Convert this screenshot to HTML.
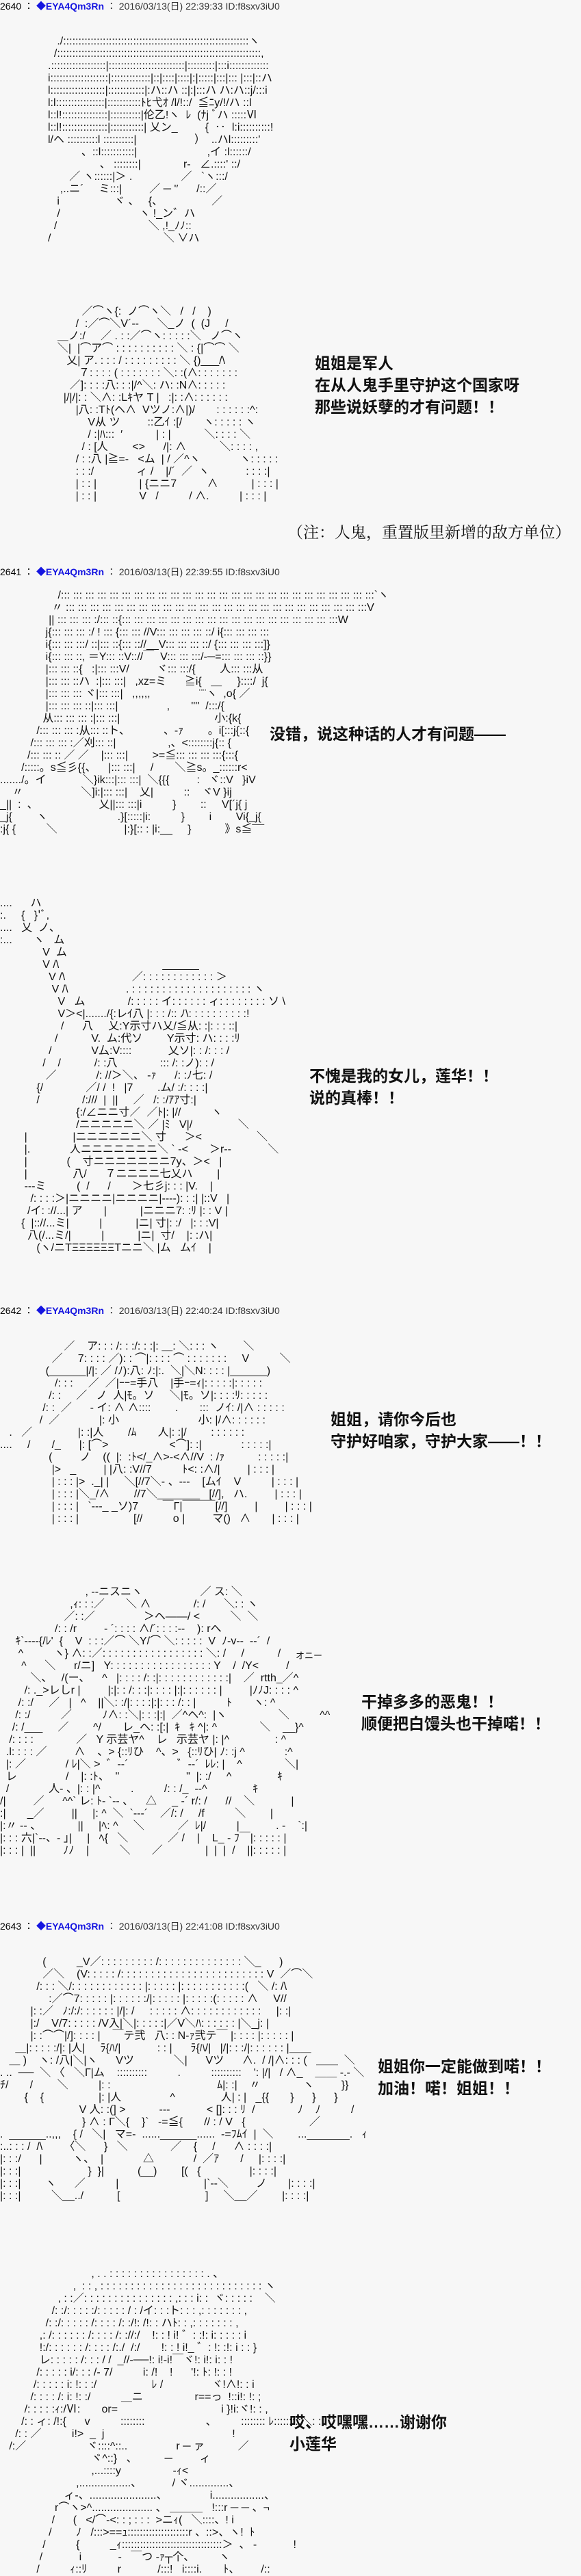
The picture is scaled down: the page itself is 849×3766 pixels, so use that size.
<!DOCTYPE html>
<html><head><meta charset="utf-8">
<style>
html,body{margin:0;padding:0;}
body{width:849px;height:3762px;background:#f7f7f7;position:relative;overflow:hidden;font-family:"Liberation Sans","Noto Sans CJK JP",sans-serif;}
.h{position:absolute;left:0;font-size:14px;line-height:18px;color:#333;white-space:pre;}
.h b{color:#1515e0;}
.h .n{color:#000;}
pre{position:absolute;margin:0;font-family:"Liberation Sans","Noto Sans CJK JP",sans-serif;font-size:16px;line-height:18px;color:#111;white-space:pre;}
.t{position:absolute;font-family:"Liberation Sans","Noto Sans CJK SC",sans-serif;font-size:23px;line-height:32px;color:#111;white-space:nowrap;font-weight:bold;}
.note{position:absolute;font-family:"Liberation Serif","Noto Serif CJK SC",serif;font-size:23px;line-height:32px;color:#111;white-space:nowrap;}
</style></head><body>

<div class="h" style="top:0px"><span class="n">2640 ： </span><b>◆EYA4Qm3Rn</b> ： 2016/03/13(日) 22:39:33 ID:f8sxv3iU0</div>
<div class="h" style="top:827px"><span class="n">2641 ： </span><b>◆EYA4Qm3Rn</b> ： 2016/03/13(日) 22:39:55 ID:f8sxv3iU0</div>
<div class="h" style="top:1907px"><span class="n">2642 ： </span><b>◆EYA4Qm3Rn</b> ： 2016/03/13(日) 22:40:24 ID:f8sxv3iU0</div>
<div class="h" style="top:2807px"><span class="n">2643 ： </span><b>◆EYA4Qm3Rn</b> ： 2016/03/13(日) 22:41:08 ID:f8sxv3iU0</div>

<pre style="top:52px;left:70px">   ./:::::::::::::::::::::::::::::::::::::::::::::::::::::::::::::ヽ
  /:::::::::::::::::::::::::::::::::::::::::::::::::::::::::::::::::::,
.::::::::::::::::::|:::::::::::::::::::::::::|:::::::::|:::i:::::::::::::
i:::::::::::::::::::|:::::::::::::|::|::::|::::|:|:::::|:::|::: |:::|::ハ
l::::::::::::::::::|::::::::::::|:ハ::ハ ::|:|:::ハ ハ:ハ::j/:::i
l:l::::::::::::::::|:::::::::::ﾄﾋ弋ｵ /l/!::/  ≦ﾆy/!/ハ ::l
l::l!:::::::::::::::|::::::::::|伦乙!ヽ  ﾚ  (ﾅj ﾞハ :::::Ⅵ
l::l!:::::::::::::::|:::::::::::| 乂ン_         {  ‥  l:i::::::::::!
l/ヘ ::::::::::l ::::::::::|                   ）  ..ハl:::::::::'
           、::l:::::::::::|                       ,イ :l::::::/
                 、 ::::::::|              r‐   ∠.::::' ::/
       ／ ヽ::::::|＞ .                ／   `ヽ:::/
    ,..ニ´     ミ:::|         ／ ─ '′      /::／
   i                  ヾ 、   {、                ／
   /                          ヽ !_ン゛ハ
  /                              ＼ ,!_ﾉﾉ::
/                                     ＼ ∨ハ</pre>

<pre style="top:447px;left:75px">          ／⌒ヽ{:  ノ⌒ヽ＼   /   /    )
        /  :／⌒＼V´‐‐      ＼_ノ  (  (J     /
  ＿ノ:/     ／ . : :／⌒ヽ: : : : :＼   ノ⌒ヽ
  ＼|  |⌒ア⌒ : : : : : : : : : : ＼ : {|⌒⌒ ＼
     乂| ア. : : : / : : : : : : : : : ＼ {)___/\
         ７: : : : ( : : : : : : : ＼: :(∧: : : : : : :
      ／]: : : :八: : :|/^＼: ハ: :N∧: : : : :
    |/|/|: : ＼∧: :Lｷヤ T |   :|: :∧: : : : : :
        |八: :Tﾄ(ヘ∧  Vツノ:∧|)/       : : : : : :^:
            V从 ツ         ::乙ｲ :[/       ヽ: : : : : ヽ
            / :|ﾊ:::  ′           | : |           ＼: : : : ＼
          / : [人        &lt;&gt;      /|: ∧           ＼: : : : ,
        / : :八 |≧=‐   &lt;ム  | / ／^ヽ             ヽ: : : : :
        : : :/              ィ /    |/´  ／  ヽ            : : : :|
        | : : |              | {ニニ7          ∧           | : : : |
        | : : |              V   /          / ∧.          | : : : |</pre>

<div class="t" style="top:515px;left:460px">姐姐是军人<br>在从人鬼手里守护这个国家呀<br>那些说妖孽的才有问题！！</div>
<div class="note" style="top:763px;left:420px">（注：人鬼，重置版里新增的敌方单位）</div>

<pre style="top:862px;left:0px">                   /::: ::: ::: ::: ::: ::: ::: ::: ::: ::: ::: ::: ::: ::: ::: ::: ::: ::: ::: ::: ::: ::: ::: ::: ::: :::`ヽ
                 〃 ::: ::: ::: ::: ::: ::: ::: ::: ::: ::: ::: ::: ::: ::: ::: ::: ::: ::: ::: ::: ::: ::: ::: ::: :::V
                || ::: ::: ::: :/::: ::{::: ::: ::: ::: ::: ::: ::: ::: ::: ::: ::: ::: ::: ::: ::: ::: ::: :::W
               j{::: ::: ::: :/ ! ::: {::: ::: //V::: ::: ::: ::: ::/ i{::: ::: ::: :::
               i{::: ::: :::/ ::|::: ::{::: :://__V::: ::: ::: ::/ {::: ::: ::: :::]}
               i{::: ::: ::, ＝Y::: ::V:://￣  V::: ::: :::/‐─=::: ::: ::: ::}}
               |::: ::: ::{   :|::: :::V/         ヾ::: :::/{        人::: :::从
               |::: ::: ::ハ  :|::: :::|   ,xz=ミ      ≧i{   ＿     }::::/  j{
               |::: ::: ::: ヾ|::: :::|   ,,,,,,                ¨¨ヽ  ,o{ ／
               |::: ::: ::: ::|::: :::|                ,       ''''  /:::/{
              从::: ::: ::: :|::: :::|                               小:{k{
            /::: ::: ::: :从::: ::ト、           、‐ｧ        。i[:::j{::{
          /::: ::: ::: :／刈::: ::|                 ,、&lt;::::::::j{:: {
         /::: ::: :: ／ ／    |::: :::|        &gt;=≦::: ::: ::: :::{:::{
       /:::::。s≦彡{{、    |::: :::|     /       ＼≧s。_::::::r&lt;
......./。イ            ＼}ik:::|::: :::|  ＼{{{         :   ヾ::V   }iV
    〃                   ＼]i:|::: :::|    乂|          ::    ヾV }ij
_||  :  、                    乂||::: :::|i          }        ::     V[´j{ j
_j{        ヽ                       .}[:::::|i:          }        i        Vi{_j{
:j{ {          ＼                      |:}[:: : |i:__     }           》s≦¯¯</pre>

<div class="t" style="top:1057px;left:394px">没错，说这种话的人才有问题——</div>

<pre style="top:1312px;left:0px">....      ハ
:.     {   }'ﾞ,
....   乂  ノ、
:...       ヽ   ム
              V  ム
              V /\                                  ______
                V /\                      ／: : : : : : : : : : : : ＞
                 V /\                   . : : : : : : : : : : : : : : : : : : : : ヽ
                   V   ム              /: : : : : イ: : : : : : ィ: : : : : : : : ソ \
                   V＞&lt;|......./{:レｲ八 |: : : /:: ﾉ\: : : : : : : : : :!
                    /      八     乂:Y示寸ハ乂/≦从: :|: : : ::|
                  /           V.  ム:代ソ        Y示寸: ハ: : : :ﾘ
                /             V厶:V::::            乂ソ|: : /: : : /
              /    /           /: :八              ::: /: :ノ): : /
               ／             /: //＞＼、 ‐ｧ      /: :ﾉ七: /
            {/              ／/ /  !   |7        .ム/ :/: : : :|
            /              /:///  |  ||     ／   /: :/ｱｱ寸:|
                         {:/∠ニニ寸／  ／ﾄ|: |//          ヽ
                         /ニニニニニ＼ ／ |ﾐ   V|/               ＼
        |               |ニニニニニニ＼ 寸      ＞&lt;                  ＼
        |.             人ニニニニニニニ＼ ` ‐&lt;       ＞r‐‐            ＼
        |             (    寸ニニニニニニニ7y、＞&lt;   |
        |               八/      ７ニニニニ七乂ハ        |
        ‐‐‐ミ          (  /      /       ＞七彡j: : : |V.    |
          /: : : :＞|ニニニニ|ニニニニ|‐‐‐‐): : :| |::V   |
         /イ: ://...| ア       |           |ニニニ7: :ﾘ |: : V |
       {  |:://...ミ|          |           |ニ| 寸|: :/   |: : :V|
         八(/...ミ/|          |           |ニ|  寸/    |: :ハ|
            (ヽ/ニTΞΞΞΞΞΞTニニ＼ |ム   ムｲ    |</pre>

<div class="t" style="top:1557px;left:452px">不愧是我的女儿，莲华！！<br>说的真棒！！</div>

<pre style="top:1960px;left:0px">                     ／    ア: : : /: : :/: : :|: ＿: ＼: : : ヽ        ＼
                 ／     7: : : : ／): : ⌒|: : : : ⌒ : : : : : : :     V          ＼
               (______|/|: ／ /ﾉ):八: ﾉ:|:.  ＼|＼N: : : : |______)
                  /: : :     ／  ／|ｰｰ=手八    |手ｰ=ｨ|: : : : :|: : : : :
                /: :     ／   ノ  人|ﾓ。ソ     ＼|ﾓ。ソ|: : : :ﾘ: : : : :
              /: :  ／      ‐ イ: ∧ ∧::::        .       :::  ノｲ: /|∧ : : : : :
             /  ／             |: 小                          小: |/∧: : : : : :
   .   ／               |: :|人        /ﾑ       人|: :|/        : : : : : :
....     /       /_      |: [⌒&gt;                    &lt;⌒]: :|             : : : : :|
                (         ノ    ((  |:  :ﾄ&lt;/_∧&gt;‐&lt;∧//V  : /ｧ           : : : : :|
                 |&gt;   _         | |八: :V//7          ﾄ&lt;: :∧/|         | : : : |
                 | : : : |&gt;  ._| |     ＼[//7＼‐ 、‐‐‐    [ムｲ    V          | : : : |
                 | : : : |＼_/∧        //7＼_______   [//],   ハ.         | : : : |
                 | : : : |   `‐‐‐_ _ソ)7        ￣Г|￣￣￣[//]         |         | : : : |
                 | : : : |                  [//          o |         マ()   ∧       | : : : |</pre>

<div class="t" style="top:2059px;left:483px">姐姐，请你今后也<br>守护好咱家，守护大家——！！</div>

<pre style="top:2319px;left:0px">                            , ‐‐ニスニヽ                   ／ ス: ＼
                       ,ｨ: : :／       ＼ ∧              /: /      ＼: : ヽ
                     ／: :／                ＞ヘ――/ &lt;          ＼  ＼
                  /: : /r         ‐ ´: : : : ∧/´: : : :‐-    ): rへ
     ｷ`‐‐‐‐{/ﾚ'  {    V  : : :／⌒ ＼Y/⌒ ＼: : : : :  V  ﾉ‐v‐‐  ‐‐´  /
      ^          ヽ} ∧: :／: : : : : : : : : : : : : : : : : ＼: /     /           /
       ^      ＼      r/ニ]   Y: : : : : : : : : : : : : : : : : Y    /  /Y&lt;         /
          ＼、   /(ー、    ^   |: : : : /: :|: : : : : : : : : : : :|    ／  rtth_／^
        /: ._&gt;レしr |         |:|: : /: : :|: : : : |:|: : : : : : |         |ﾉﾉJ: : : : ^
      /: :/     ／   |   ^    ||＼: :/|: : : :|:|: : : /: : |          ﾄ       ヽ: ^
     /: :/          ／          ﾉ∧: :＼|: : :|:|  ／^ヘ^:  |ヽ                 ＼          ^^
    /: /___     ／        ^/       レ_ヘ: :[:|  ｷ   ｷ ^|: ^              ＼    __}^
   /: : : :              ／   Y 示芸ヤ^    レ   示芸ヤ |: |^               : ^
  .l: : : : ／         ∧    、&gt; {::ﾘひ    ^、&gt;   {::ﾘひ| ﾉ: :j ^             :^
  |: ／             / ﾚ|＼ &gt;  ゛‐‐´                ゛‐‐´  ﾚﾚ: |    ^              ＼|
  レ                /    |: :ﾄ、  "                      "  |: :/     ^               ｷ
  /             人‐ 、|: : |^          .          /: : /_  ‐‐^               ｷ
/|         ／      ^^` レ: ﾄ‐ `‐‐ 、    △     _ ‐´ r/: /      //    ＼            |
:|       _／         ||     |: ^  ＼  `‐‐‐´    ／/: /     /f          ＼        |
|:〃 ‐‐ 、            ||     |ﾍ: ^     ＼           ／  ﾚ|/          |            . ‐    `:|
|: : : 六|`‐‐、‐ ｣|     |   ﾍ{   ＼             ／ /    |    L_ ‐ ﾌ￣|: : : : : |
|: : : |  ||         ﾉﾉ    |          ＼       ／              |  |  |  /    ||: : : : : |</pre>

<div style="position:absolute;top:2410px;left:432px;font-size:13px;color:#111">オニー</div>
<div class="t" style="top:2472px;left:528px">干掉多多的恶鬼！！<br>顺便把白馒头也干掉喏！！</div>

<pre style="top:2860px;left:0px">              (          _V／: : : : : : : : : /: : : : : : : : : : : : : : ＼_      )
              ／＼    (V: : : : : /: : : : : : : : : : : : : : : : : : : : : : : : V  ／⌒＼
            /: : : ＼/: : : : : : : : : : : : |: : : : : |: : : : : : : : : : :(   ＼ /: /\
                :／⌒7: : : : : |: : : : : :/|: : : : : |: : : : :(: : : : : ∧     V//
          |: :／   ﾉ:/:/: : : : : : |/|: /     : : : : : ∧: : : : : : : : : : : :     |: :|
          |:/    V/7: : : : : /V入|＼|: : : : :|／V＼ﾊ: : : : : : |＼_j: |
          |: :⌒⌒|/]: : : : |    ￣テ弐   八: : N‐ｧ弐テ￣ |: : : : |: : : : : |
     ＿|: : : : :/|: |人|     ﾗ{ﾊ/|            : : |      ﾗ{ﾊ/|   |/|: : :/|: : : : : : |＿＿
   ＿ )    ヽ: /八|＼|ヽ      Vツ             ＼|      Vツ      ∧.  / /|∧: : : (   ＿＿  ＼
. ..  ──  ＼ 〈   ＼Г|ム    ::::::::::          .          ::::::::::    ': |/|   / ∧_    ＿＿ -.- ＼
ﾁ/       /        ＼          |: :                                   ﾑ|: :|    〃              ヽ         }}
        {    {                  |: |人                ^               人| : |   _{{       }      }      }
                          V 人: :(] &gt;           ‐‐‐            &lt; []: : : ﾘ  /              ﾉ    ﾉ          /
                           } ∧ : Г＼{    }`   ‐=≦{       // : / V   {                     ／
.  ______..,,,    { /   ＼|   マ=‐  ......______......  ‐=ﾌﾑｲ  |  ＼        ..._______.   ｨ
:..: : : /  /\       〈＼      }   ＼              ／    {     /      ∧ : : : :|
|: : :/      |          ヽ、  |             △             /  ／ｱ       /     |: : : :|
|: : :|                      }  }|           (__)        [(   {                |: : : :|
|: : :|        ヽ      ／          |                            |`‐‐＼         ノ       |: : : :|
|: : :|          ＼__../           [                            ]     ＼__／        |: : : :|</pre>

<div class="t" style="top:3005px;left:552px">姐姐你一定能做到喏！！<br>加油！喏！姐姐！！</div>

<pre style="top:3316px;left:0px">                              , . . : : : : : : : : : : : : : : : : . 、
                        ,  : : , : : : : : : : : : : : : : : : : : : : : : : : : : : : ヽ
                   , : :／: : : : : : : : : : : : : : : ,: : : i: :  ヾ: : : : :    ＼
                 /: :/: : : : :/: : : : : / : /イ: : :ト: : : ,: : : : : : : ,
               /: :/: : : : : /: : : : /: :/!: /!: : ハﾄ: : ,: : : : : : : ,
             ,: /: : : : : : /: : : : /: ://:/    !: : ! i! ゛: :!: i: : : : : i
             !:/: : : : : : /: : : : /:./  /:/       !: : ! i!_ ゛: !: :!: i : : }
             レ: : : : : /: : : / /  _//‐──!: i!‐i!￣ヾ!: i!: i: : !
            /: : : : : i/: : : /‐ 7/          i: /!    !      '!: ﾄ: !: : !
           /: : : : : i: !: : :/                  ﾚ /                ヾ!∧!: : i
          /: : : : /: i: !: :/          ＿ニ                 r==っ  !::i!: !: ;
        /: : : : :ｨ:/Ⅵ:       or=                                  i }!i:ヾ!: : ,
       /: : ィ: /!:{      v          ::::::::                    、        :::::::: ﾚ:::::::::＼: : ;
     /: : ／          i!&gt;  _  j                                          !
   /:／                    ヾ::::^::..                r ─ ァ           ／
                              ヾ^::}   、         ─         ィ
                              ,...::::y                 ‐ｨ&lt;
                         ,.................、          / ヾ.............、
                     ィ‐、......................、              i.................、
                  r⌒ヽ&gt;^.................... 、 ＿＿＿   !:::r ─ ─ 、¬
                 /      (   &lt;/⌒‐&lt;: : ; : : :  &gt;ニｨ(   ＼::::、! i
                /        ﾉ   /:::&gt;==ｭ::::::::::::::::::::r 、::&gt;、ヽ!  ﾄ
              /          {          _ｨ:::::::::::::::::::::::::::::::::＞  、 ‐            !
             /            i            ‐   ￣つ ‐ｧ┬个、        ヽ
            /          ｨ::ﾘ          r            /:::!   i::::i.       ﾄ、       /::</pre>

<div class="t" style="top:3525px;left:423px">哎、哎嘿嘿……谢谢你<br>小莲华</div>

</body></html>
